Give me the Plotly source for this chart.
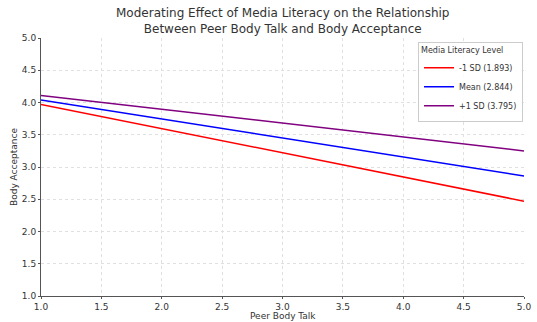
import plotly.graph_objects as go

peer_body_talk = [1.0, 5.0]
series_names = ["-1 SD (1.893)", "Mean (2.844)", "+1 SD (3.795)"]
low_sd = [3.97, 2.47]
mean_vals = [4.04, 2.86]
high_sd = [4.11, 3.25]
colors = ["red", "blue", "purple"]
tick_vals = [1.0, 1.5, 2.0, 2.5, 3.0, 3.5, 4.0, 4.5, 5.0]
tick_text = ["1.0", "1.5", "2.0", "2.5", "3.0", "3.5", "4.0", "4.5", "5.0"]
title_text = ("Moderating Effect of Media Literacy on the Relationship<br>"
              "Between Peer Body Talk and Body Acceptance")
x_title = "Peer Body Talk"
y_title = "Body Acceptance"

fig = go.Figure()
for name, ys, c in zip(series_names, [low_sd, mean_vals, high_sd], colors):
    fig.add_trace(go.Scatter(x=peer_body_talk, y=ys, mode="lines", name=name,
                             line=dict(color=c, width=1.5)))

font = "DejaVu Sans"
fig.update_layout(
    width=537, height=322,
    margin=dict(l=41, r=13, t=38, b=26, autoexpand=False),
    paper_bgcolor="white", plot_bgcolor="white",
    font=dict(family=font, color="#333333", size=9),
    legend=dict(title=dict(text="Media Literacy Level", font=dict(size=8), side="top"),
                font=dict(size=8), x=0.998, y=0.985, xanchor="right", yanchor="top",
                bordercolor="#cccccc", borderwidth=1, bgcolor="rgba(255,255,255,0.85)",
                tracegroupgap=0, itemwidth=30),
    showlegend=True,
)
fig.add_annotation(text=title_text, xref="paper", yref="paper", x=0.5, y=1.0,
                   xanchor="center", yanchor="bottom", yshift=0, showarrow=False,
                   font=dict(size=12, family=font, color="#333333"))
fig.add_annotation(text=x_title, xref="paper", yref="paper", x=0.5, y=0.0,
                   xanchor="center", yanchor="middle", yshift=-20, showarrow=False,
                   font=dict(size=9, family=font, color="#333333"))
fig.add_annotation(text=y_title, xref="paper", yref="paper", x=0.0, y=0.5,
                   xanchor="center", yanchor="middle", xshift=-27, textangle=-90,
                   showarrow=False, font=dict(size=9, family=font, color="#333333"))
fig.update_xaxes(range=[1.0, 5.0], tickvals=tick_vals, ticktext=tick_text, automargin=False,
                 tickfont=dict(size=9),
                 showgrid=True, gridcolor="#e0e0e0", griddash="dot", gridwidth=1,
                 showline=True, linecolor="#555555", linewidth=1,
                 ticks="outside", ticklen=2, tickcolor="#555555", zeroline=False)
fig.update_yaxes(range=[1.0, 5.0], tickvals=tick_vals, ticktext=tick_text, automargin=False,
                 tickfont=dict(size=9),
                 showgrid=True, gridcolor="#e0e0e0", griddash="dot", gridwidth=1,
                 showline=True, linecolor="#555555", linewidth=1,
                 ticks="outside", ticklen=2, tickcolor="#555555", zeroline=False)

fig.write_html("out.html", config={"displayModeBar": False})
with open("out.html", encoding="utf-8") as f:
    html = f.read()
html = html.replace("<head>", "<head><style>html,body{margin:0;padding:0;overflow:hidden}</style>", 1)
with open("out.html", "w", encoding="utf-8") as f:
    f.write(html)
